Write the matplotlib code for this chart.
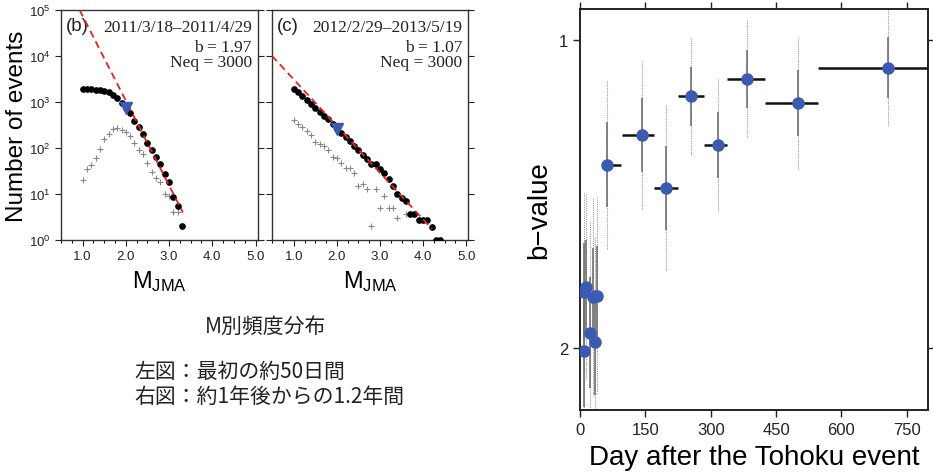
import numpy as np
import matplotlib
matplotlib.use("Agg")
import matplotlib.pyplot as plt
from matplotlib.ticker import FixedLocator, MultipleLocator, NullFormatter

plt.rcParams['font.family'] = ['Liberation Sans', 'DejaVu Sans']
plt.rcParams['mathtext.fontset'] = 'custom'
plt.rcParams['mathtext.rm'] = 'Liberation Sans'
plt.rcParams['mathtext.it'] = 'Liberation Sans:italic'

# ---------------- data: panel (b) ----------------
mag_b = [1.0, 1.1, 1.2, 1.3, 1.4, 1.5, 1.6, 1.7, 1.8, 1.9, 2.0, 2.1, 2.2, 2.3,
         2.4, 2.5, 2.6, 2.7, 2.8, 2.9, 3.0, 3.1, 3.2, 3.3]
cum_b = [1905, 1905, 1870, 1840, 1815, 1725, 1615, 1413, 1197, 959, 736, 564,
         390, 280, 200, 128, 91, 62, 44, 27, 18, 8.6, 5.3, 2]
mag_b_nc = [1.0, 1.1, 1.2, 1.3, 1.4, 1.5, 1.6, 1.7, 1.8, 1.9, 2.0, 2.1, 2.2,
            2.3, 2.4, 2.5, 2.6, 2.7, 2.8, 2.9, 3.0, 3.1, 3.2]
noncum_b = [20, 35, 43, 59, 93, 158, 200, 257, 269, 250, 220, 178, 127, 91, 73,
            46, 30, 22, 18, 10, 9, 4, 4]
mc_b, mc_b_n = 2.0, 736
fit_b_m = [0.93, 3.32]
fit_b_n = [1.0e5, 3.9]
period_b = "2011/3/18\u20132011/4/29"
bval_b = "b = 1.97"
neq_b = "Neq = 3000"

# ---------------- data: panel (c) ----------------
mag_c = [1.0, 1.1, 1.2, 1.3, 1.4, 1.5, 1.6, 1.7, 1.8, 1.9, 2.0, 2.1, 2.2, 2.3,
         2.4, 2.5, 2.6, 2.7, 2.8, 2.9, 3.0, 3.1, 3.2, 3.3, 3.4, 3.5, 3.6, 3.7,
         3.8, 3.9, 4.0, 4.1, 4.2, 4.3, 4.4]
cum_c = [1905, 1615, 1365, 1117, 912, 736, 611, 500, 424, 335, 257, 210, 172,
         141, 111, 88, 71, 57, 45, 44, 34, 28, 21, 15, 10, 8, 7, 3.6, 3.6, 2.7,
         2.7, 2.7, 1.9, 1, 1]
mag_c_nc = [1.0, 1.1, 1.2, 1.3, 1.4, 1.5, 1.6, 1.7, 1.8, 1.9, 2.0, 2.1, 2.2,
            2.3, 2.4, 2.5, 2.6, 2.7, 2.8, 2.9, 3.0, 3.1, 3.2, 3.3, 3.4, 3.6]
noncum_c = [404, 330, 279, 236, 190, 136, 121, 108, 90, 62, 59, 46, 36, 36, 29,
            15, 16, 13, 2, 13, 5, 9, 5, 5, 3, 3.6]
mc_c, mc_c_n = 2.0, 257
fit_c_m = [0.49, 4.21]
fit_c_n = [1.01e4, 1.7]
period_c = "2012/2/29\u20132013/5/19"
bval_c = "b = 1.07"
neq_c = "Neq = 3000"

# ---------------- data: b-value time series ----------------
early_day = [9.2, 13.7, 22.9, 29.0, 33.7, 39.7, 9.2]
early_b = [1.818, 1.800, 1.949, 1.834, 1.980, 1.829, 2.009]
early_err1 = [0.16, 0.15, 0.18, 0.16, 0.17, 0.16, 0.18]
early_err2 = [0.32, 0.30, 0.36, 0.32, 0.34, 0.32, 0.36]

late_day = [61, 143, 198, 254, 317, 384, 501, 706]
late_b = [1.405, 1.308, 1.480, 1.183, 1.341, 1.127, 1.206, 1.090]
late_err1 = [0.138, 0.120, 0.135, 0.095, 0.108, 0.095, 0.107, 0.098]
late_err2 = [0.272, 0.240, 0.270, 0.190, 0.215, 0.190, 0.215, 0.190]
win_start = [52, 97, 170, 226, 284, 338, 425, 547]
win_end = [95, 170, 226, 284, 338, 425, 547, 830]

day_ticks = [0, 150, 300, 450, 600, 750]
b_ticks = [1, 2]

# ---------------- figure ----------------
W, H = 933, 477
fig = plt.figure(figsize=(W / 100, H / 100), dpi=100)

def fa(l, t, r, b):
    return [l / W, 1 - b / H, (r - l) / W, (b - t) / H]

axb = fig.add_axes(fa(61, 11, 257.7, 240.7))
axc = fig.add_axes(fa(272.3, 11, 468.3, 240.7))
axr = fig.add_axes(fa(580, 10, 928.5, 411))

blue = '#3a5bb0'
serif = ['Liberation Serif', 'DejaVu Serif']

def style_fmd(ax, show_ylabels):
    ax.set_yscale('log')
    ax.set_xlim(0.5, 5.05)
    ax.set_ylim(1, 1e5)
    ax.xaxis.set_major_locator(FixedLocator([1, 2, 3, 4, 5]))
    ax.xaxis.set_minor_locator(MultipleLocator(0.25))
    ax.set_xticklabels(['1.0', '2.0', '3.0', '4.0', '5.0'])
    ax.yaxis.set_major_locator(FixedLocator([1, 10, 100, 1e3, 1e4, 1e5]))
    ax.yaxis.set_minor_locator(FixedLocator([]))
    ax.yaxis.set_minor_formatter(NullFormatter())
    if show_ylabels:
        ax.set_yticklabels([r'$10^{0}$', r'$10^{1}$', r'$10^{2}$', r'$10^{3}$',
                            r'$10^{4}$', r'$10^{5}$'])
    else:
        ax.set_yticklabels([])
    ax.tick_params(axis='both', which='major', direction='out', length=4,
                   width=0.8, labelsize=9.5, colors='#222222', right=True)
    ax.tick_params(axis='x', which='minor', direction='out', length=2.5,
                   width=0.7)
    for s in ax.spines.values():
        s.set_linewidth(1.0)
        s.set_color('#333333')
    ax.set_xlabel(r'M$_{\mathrm{JMA}}$', fontsize=17)
    ax.xaxis.set_label_coords(0.5, -0.125)

for ax, mag, cum, magnc, nc, mc, mcn, fm, fn, lab, per, bv, nq in [
        (axb, mag_b, cum_b, mag_b_nc, noncum_b, mc_b, mc_b_n, fit_b_m, fit_b_n,
         '(b)', period_b, bval_b, neq_b),
        (axc, mag_c, cum_c, mag_c_nc, noncum_c, mc_c, mc_c_n, fit_c_m, fit_c_n,
         '(c)', period_c, bval_c, neq_c)]:
    ax.plot(magnc, nc, '+', color='#888888', ms=4, mew=0.8, zorder=2)
    ax.plot(mag, cum, 'o', color='black', ms=3.8, zorder=3)
    ax.plot(fm, fn, '--', color='#e8221b', lw=1.3, dashes=(4, 2.5), zorder=4)
    ax.plot([mc], [mcn], 'v', color=blue, ms=8, zorder=5)
    style_fmd(ax, ax is axb)
    ax.text(0.025, 0.932, lab, transform=ax.transAxes, fontsize=13.5,
            ha='left', va='center', color='#222222')
    ax.text(0.97, 0.925, per, transform=ax.transAxes, fontsize=12.5,
            ha='right', va='center', family=serif, color='#222222')
    ax.text(0.97, 0.838, bv, transform=ax.transAxes, fontsize=12.5,
            ha='right', va='center', family=serif, color='#222222')
    ax.text(0.97, 0.772, nq, transform=ax.transAxes, fontsize=12.5,
            ha='right', va='center', family=serif, color='#222222')

axb.set_ylabel('Number of events', fontsize=17.5)
axb.yaxis.set_label_coords(-0.17, 0.5)

# ---------------- right panel ----------------
ed = np.array(early_day); eb = np.array(early_b)
ld = np.array(late_day); lb = np.array(late_b)
axr.vlines(ed, eb - np.array(early_err2), eb + np.array(early_err2),
           colors='#9a9a9a', linestyles=(0, (1, 1)), lw=0.8, zorder=1)
axr.vlines(ld, lb - np.array(late_err2), lb + np.array(late_err2),
           colors='#9a9a9a', linestyles=(0, (1, 1)), lw=0.8, zorder=1)
axr.vlines(ed, eb - np.array(early_err1), eb + np.array(early_err1),
           colors='#707070', lw=1.2, zorder=2)
axr.vlines(ld, lb - np.array(late_err1), lb + np.array(late_err1),
           colors='#707070', lw=1.2, zorder=2)
axr.hlines(lb, win_start, win_end, colors='#111111', lw=1.8, zorder=3)
axr.plot(ed, eb, 'o', color=blue, ms=8, zorder=4, clip_on=True)
axr.plot(ld, lb, 'o', color=blue, ms=8, zorder=4)

axr.set_xlim(0, 800)
axr.set_ylim(2.2, 0.9)
axr.set_xticks(day_ticks)
axr.set_yticks(b_ticks)
axr.set_yticklabels([str(v) for v in b_ticks])
axr.tick_params(axis='both', direction='out', length=5, width=1.0,
                labelsize=12, colors='#222222', top=True, right=True)
for s in axr.spines.values():
    s.set_linewidth(1.4)
    s.set_color('#222222')
axr.set_xlabel('Day after the Tohoku event', fontsize=20)
axr.xaxis.set_label_coords(0.5, -0.085)
axr.set_ylabel('b\u2212value', fontsize=20)
axr.yaxis.set_label_coords(-0.08, 0.5)

# ---------------- Japanese captions ----------------
jp = ['Noto Sans CJK JP', 'DejaVu Sans']
fig.text(266 / W, 1 - 327 / H, 'M別頻度分布', family=jp, fontsize=15,
         ha='center', va='center', color='#222222')
fig.text(134 / W, 1 - 372 / H, '左図：最初の約50日間', family=jp, fontsize=15,
         ha='left', va='center', color='#222222')
fig.text(134 / W, 1 - 397 / H, '右図：約1年後からの1.2年間', family=jp, fontsize=15,
         ha='left', va='center', color='#222222')

fig.savefig('out.png', dpi=100)
